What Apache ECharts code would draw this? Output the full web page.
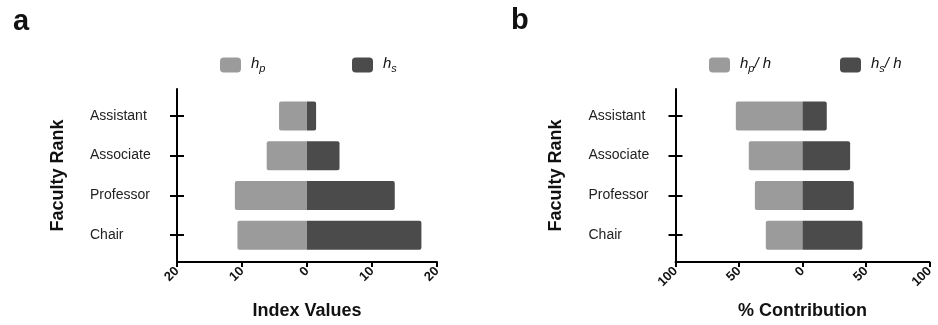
<!DOCTYPE html>
<html>
<head>
<meta charset="utf-8">
<script src="https://cdn.jsdelivr.net/npm/echarts@6/dist/echarts.min.js"></script>
<style>
  html, body { margin: 0; padding: 0; background: #fff; }
  #chart { width: 938px; height: 325px; }
</style>
</head>
<body>
<div id="chart"></div>
<script>
// Faculty ranks, top to bottom
const ranks = ['Assistant', 'Associate', 'Professor', 'Chair'];

// Panel a: index values
const hp = [4.3, 6.2, 11.1, 10.7];
const hs = [1.4, 5.0, 13.5, 17.6];

// Panel b: percent contribution
const hpShare = [52.5, 42.3, 37.5, 28.9];
const hsShare = [19.1, 37.5, 40.4, 47.2];

// x-axis ranges
const indexTicks = { min: -20, max: 20, interval: 10 };
const shareTicks = { min: -100, max: 100, interval: 50 };

const FONT = '"Liberation Sans", Arial, Helvetica, sans-serif';
const LIGHT = '#9b9b9b';
const DARK = '#4b4b4b';
const INK = '#111';

// Layout of the two panels
const panels = [
  { left: 177, width: 260, xName: 'Index Values', ticks: indexTicks, neg: hp, pos: hs,
    legend: [{ x: 220, name: 'hp', text: '{sp|}{h|h}{sub|p}' }, { x: 352, name: 'hs', text: '{sp|}{h|h}{sub|s}' }] },
  { left: 675.5, width: 254, xName: '% Contribution', ticks: shareTicks, neg: hpShare, pos: hsShare,
    legend: [{ x: 709, name: 'hp/h', text: '{sp|}{h|h}{sub|p}{h|/ h}' }, { x: 840, name: 'hs/h', text: '{sp|}{h|h}{sub|s}{h|/ h}' }] }
];

const barTop = 96, bandH = 39.75, barH = 29, ext = 7;
const barHeight = bandH * ranks.length;

const option = {
  backgroundColor: '#fff',
  animation: false,
  textStyle: { fontFamily: FONT },
  title: [
    { text: 'a', left: 8, top: 2, textStyle: { fontSize: 29, fontWeight: 'bold', color: INK, fontFamily: FONT } },
    { text: 'b', left: 506, top: 1, textStyle: { fontSize: 29, fontWeight: 'bold', color: INK, fontFamily: FONT } }
  ],
  grid: [],
  xAxis: [],
  yAxis: [],
  legend: [],
  series: []
};

const rich = {
  sp: { width: 5 },
  h: { fontSize: 15, fontStyle: 'italic', color: INK, fontFamily: FONT, lineHeight: 18, verticalAlign: 'top' },
  sub: { fontSize: 11, fontStyle: 'italic', color: INK, fontFamily: FONT, lineHeight: 18, verticalAlign: 'bottom', padding: [7, 0, 0, 0] }
};

panels.forEach((p, k) => {
  const gBar = k * 2, gFrame = k * 2 + 1;
  // bar grid: category bands
  option.grid.push({ left: p.left, width: p.width, top: barTop, height: barHeight, containLabel: false });
  // frame grid: carries the longer vertical axis line
  option.grid.push({ left: p.left, width: p.width, top: barTop - ext, height: barHeight + 2 * ext, containLabel: false });

  option.xAxis.push({
    type: 'value', gridIndex: gBar,
    min: p.ticks.min, max: p.ticks.max, interval: p.ticks.interval,
    offset: ext,
    axisLine: { show: true, onZero: false, lineStyle: { color: '#000', width: 2 } },
    axisTick: { show: true, length: 5, lineStyle: { color: '#000', width: 2 } },
    splitLine: { show: false },
    axisLabel: {
      rotate: 45, margin: 7, fontSize: 13, fontWeight: 'bold', color: INK, fontFamily: FONT,
      formatter: v => String(Math.abs(v))
    },
    name: p.xName, nameLocation: 'middle', nameGap: 40,
    nameTextStyle: { fontSize: 18, fontWeight: 'bold', color: INK, fontFamily: FONT }
  });
  option.xAxis.push({ type: 'value', gridIndex: gFrame, show: false, min: 0, max: 1 });

  option.yAxis.push({
    type: 'category', gridIndex: gBar, data: ranks, inverse: true,
    axisLine: { show: true, onZero: false, lineStyle: { color: '#000', width: 2, opacity: 0 } },
    axisTick: { show: true, alignWithLabel: true, length: 7, lineStyle: { color: '#000', width: 2, opacity: 1 } },
    axisLabel: { align: 'left', margin: 87, fontSize: 14, color: '#222', fontFamily: FONT },
    splitLine: { show: false }
  });
  option.yAxis.push({
    type: 'value', gridIndex: gFrame, inverse: true,
    min: -0.5 - ext / bandH, max: ranks.length - 0.5 + ext / bandH,
    axisLine: { show: true, onZero: false, lineStyle: { color: '#000', width: 2 } },
    axisTick: { show: true, inside: true, length: 7, customValues: ranks.map((_, i) => i), lineStyle: { color: '#000', width: 2 } },
    axisLabel: { show: false },
    splitLine: { show: false },
    name: 'Faculty Rank', nameLocation: 'middle', nameGap: 110,
    nameTextStyle: { fontSize: 18, fontWeight: 'bold', color: INK, fontFamily: FONT }
  });

  const names = p.legend.map(l => l.name);
  option.series.push({
    name: names[0], type: 'bar', xAxisIndex: gBar, yAxisIndex: gBar,
    data: p.neg.map(v => -v), barWidth: barH, barGap: '-100%',
    itemStyle: { color: LIGHT, borderRadius: [2, 0, 0, 2] }
  });
  option.series.push({
    name: names[1], type: 'bar', xAxisIndex: gBar, yAxisIndex: gBar,
    data: p.pos, barWidth: barH, barGap: '-100%',
    itemStyle: { color: DARK, borderRadius: [0, 2, 2, 0] }
  });

  p.legend.forEach(l => {
    option.legend.push({
      data: [l.name], left: l.x, top: 56, padding: 0,
      itemWidth: 21, itemHeight: 15, icon: 'roundRect',
      selectedMode: false,
      formatter: () => l.text,
      textStyle: { rich: rich }
    });
  });
});

const chart = echarts.init(document.getElementById('chart'), null, { renderer: 'canvas' });
chart.setOption(option);
</script>
</body>
</html>
